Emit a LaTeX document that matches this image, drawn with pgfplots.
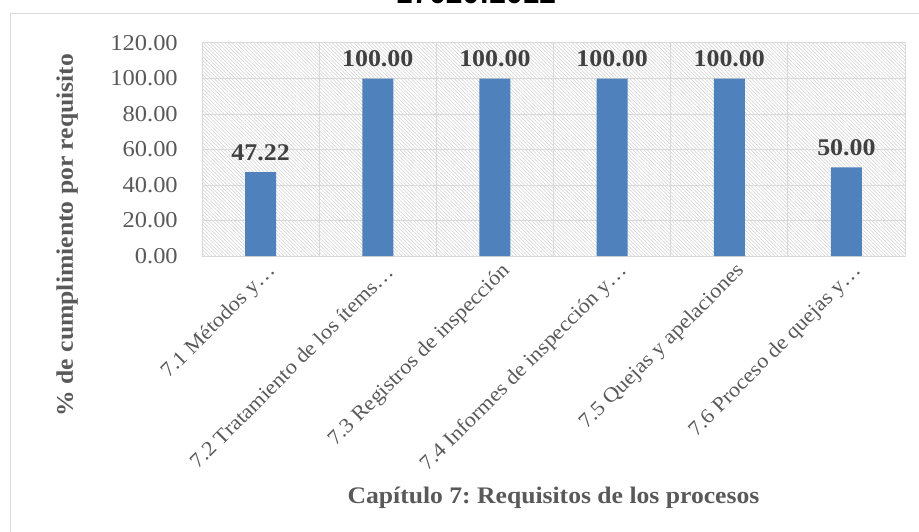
\documentclass[border=0pt]{standalone}
\usepackage{pgfplots}
\pgfplotsset{compat=1.18}
\usepackage{fontspec}
\usetikzlibrary{patterns.meta}
\setmainfont{Liberation Serif}[FakeStretch=1.08]
\newfontfamily\titlefont{Liberation Sans}
\frenchspacing

\definecolor{barblue}{HTML}{4F81BD}
\definecolor{gridgray}{HTML}{D9D9D9}
\definecolor{hatchgray}{HTML}{CFCFCF}
\definecolor{tickgray}{HTML}{595959}
\definecolor{labelgray}{HTML}{404040}

\begin{document}
\begin{tikzpicture}
% page area (origin = lower left corner of the plot area)
\useasboundingbox (-151.5pt,-206.25pt) rectangle (537.75pt,192pt);
\clip (-151.5pt,-206.25pt) rectangle (537.75pt,192pt);

% chart frame
\draw[gridgray, line width=0.75pt] (-143.25pt,-260pt) -- (-143.25pt,181.5pt) -- (620pt,181.5pt);

% chart title (mostly above the page)
\node[anchor=base, inner sep=0pt, font=\titlefont\bfseries\fontsize{22.5}{27}\selectfont, text=black]
  at (205.5pt,189.5pt) {17020:2012};

\begin{axis}[
  at={(0pt,0pt)}, anchor=south west,
  scale only axis,
  width=527.25pt, height=159.75pt,
  xmin=0.5, xmax=6.5, ymin=0, ymax=120,
  ytick={0,20,...,120},
  xtick={1,...,6},
  minor xtick={1.5,2.5,...,5.5},
  xticklabels={7.1 Métodos y…, 7.2 Tratamiento de los ítems…, 7.3 Registros de inspección,
               7.4 Informes de inspección y…, 7.5 Quejas y apelaciones, 7.6 Proceso de quejas y…},
  ymajorgrids, xminorgrids,
  major grid style={draw=gridgray, line width=0.75pt},
  minor grid style={draw=gridgray, line width=0.75pt},
  axis line style={draw=gridgray, line width=0.75pt},
  major tick length=0pt, minor tick length=0pt,
  tick style={draw=none},
  axis background/.style={pattern={Lines[angle=-45,distance=1.9pt,line width=0.4pt]}, pattern color=hatchgray},
  /pgf/number format/assume math mode=true,
  yticklabel={\pgfmathprintnumber[fixed,fixed zerofill,precision=2]{\tick}},
  yticklabel style={anchor=east, inner sep=0pt, xshift=-18pt,
    font=\fontsize{17}{20}\selectfont, text=tickgray},
  xticklabel style={inner sep=0pt, xshift=9pt, yshift=-9pt, rotate=45, anchor=east,
    font=\fontsize{15.6}{18}\selectfont, text=tickgray},
]
\addplot[ybar, bar width=23.25pt, fill=barblue, draw=none,
  nodes near coords={\pgfmathprintnumber[fixed,fixed zerofill,precision=2]{\pgfplotspointmeta}},
  every node near coord/.append style={anchor=south, inner sep=0pt, yshift=8.5pt,
    font=\bfseries\fontsize{18}{21}\selectfont, text=labelgray},
] coordinates {(1,47.22) (2,100) (3,100) (4,100) (5,100) (6,50)};
\end{axis}

% axis titles
\node[anchor=base, inner sep=0pt, font=\bfseries\fontsize{17.8}{21}\selectfont, text=tickgray]
  at (263.6pt,-185.25pt) {Capítulo 7: Requisitos de los procesos};
\node[anchor=base, rotate=90, inner sep=0pt, font=\bfseries\fontsize{17.8}{21}\selectfont, text=tickgray]
  at (-96.75pt,15.75pt) {\% de cumplimiento por requisito};
\end{tikzpicture}
\end{document}
